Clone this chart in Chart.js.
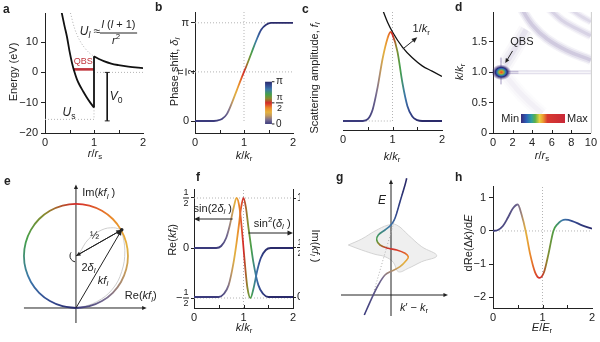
<!DOCTYPE html>
<html>
<head>
<meta charset="utf-8">
<title>Quasi-bound state</title>
<script src="https://cdn.jsdelivr.net/npm/chart.js@4.4.1/dist/chart.umd.min.js"></script>
<style>
  html, body { margin: 0; padding: 0; background: #fff; }
  body { position: relative; width: 600px; height: 342px; overflow: hidden; }
  canvas { position: absolute; }
</style>
</head>
<body>
<script>
// ---- a: potential energy (eV) vs r/r_s ----
const aRin = [0.34, 0.4, 0.45, 0.5, 0.55, 0.6, 0.65, 0.7, 0.78, 0.85, 0.92, 1.0];
const aEin = [19.8, 15.2, 11.6, 7.0, 3.2, 0.2, -2.2, -4.0, -6.3, -8.2, -9.9, -11.6];
const aRout = [1.0, 1.1, 1.2, 1.35, 1.5, 1.7, 2.0];
const aEout = [5.3, 4.4, 3.7, 2.9, 2.4, 1.9, 1.4];
const aRcent = [0.52, 0.6, 0.7, 0.8, 0.9, 1.0];
const aEcent = [19.6, 14.7, 10.8, 8.3, 6.5, 5.3];
const aQbsR = [0.57, 1.0];
const aQbsE = [1.0, 1.0];
const aV0R = [1.27, 1.27];
const aV0E = [0, -16];
const aUs = -15.5;

// ---- b: phase shift (in units of pi) vs k/k_r ----
const kPhase = [0, 0.3, 0.45, 0.55, 0.65, 0.75, 0.85, 0.95, 1.0, 1.05, 1.15, 1.25, 1.35, 1.45, 1.55, 1.7, 2];
const phase = [0, 0, 0.005, 0.02, 0.07, 0.18, 0.31, 0.44, 0.5, 0.56, 0.69, 0.82, 0.93, 0.98, 1.0, 1.0, 1.0];

// ---- c: scattering amplitude and 1/k ----
const kAmp = [0, 0.4, 0.5, 0.6, 0.7, 0.8, 0.9, 0.96, 1.0, 1.1, 1.2, 1.3, 1.4, 1.5, 1.6, 2];
const amp = [0, 0, 0.02, 0.13, 0.38, 0.7, 0.93, 1.0, 0.97, 0.78, 0.43, 0.17, 0.05, 0.01, 0, 0];
const kInv = [0.8, 0.9, 1.0, 1.2, 1.4, 1.6, 1.8, 2.0];
const invK = [1.25, 1.11, 1.0, 0.83, 0.71, 0.62, 0.56, 0.5];

// ---- d: map features (r/r_s, k/k_r) ----
const dSpotR = [0.85], dSpotK = [1.0];
const dBandR = [0.9, 10], dBandK = [1.0, 1.0];
const dTailR = [0.85, 2.6], dTailK = [1.0, 1.0];
const dStreakR = [0.82, 0.82], dStreakK = [0.8, 1.24];
const dFanR = [1.2, 2.2, 3.4], dFanK = [1.12, 1.38, 1.7];
const dWedgeR = [1.4, 3.0, 5.0], dWedgeK = [0.92, 0.62, 0.32];
const dArc1R = [2.9, 4.0, 5.5, 7.5, 10], dArc1K = [2.05, 1.78, 1.55, 1.36, 1.2];
const dArc2R = [5.7, 7.0, 8.5, 10], dArc2K = [2.05, 1.86, 1.72, 1.6];
const dArc3R = [7.8, 9.0, 10], dArc3K = [2.05, 1.92, 1.83];

// ---- e: kf_l on the complex plane ----
const eRe = [0, 0.129, 0.25, 0.354, 0.433, 0.483, 0.5, 0.483, 0.433, 0.354, 0.25, 0.129, 0,
  -0.129, -0.25, -0.354, -0.433, -0.483, -0.5, -0.483, -0.433, -0.354, -0.25, -0.129, 0];
const eIm = [0, 0.017, 0.067, 0.146, 0.25, 0.371, 0.5, 0.629, 0.75, 0.854, 0.933, 0.983, 1,
  0.983, 0.933, 0.854, 0.75, 0.629, 0.5, 0.371, 0.25, 0.146, 0.067, 0.017, 0];
const eCentre = [0, 0.5];
const ePoint = [0.44, 0.75];
const eArc1Re = [0.03, 0.12, 0.25, 0.36, 0.44], eArc1Im = [0.52, 0.66, 0.75, 0.77, 0.75];
const eArc2Re = [0.03, 0.2, 0.35, 0.44, 0.47, 0.44], eArc2Im = [0, 0.06, 0.18, 0.35, 0.55, 0.75];

// ---- f: Re and Im of kf_l ----
const kRe = [0, 0.45, 0.55, 0.65, 0.72, 0.8, 0.86, 0.92, 0.96, 1.0, 1.04, 1.08, 1.14, 1.2, 1.28, 1.35, 1.45, 1.55, 2];
const reKf = [0, 0, 0.02, 0.1, 0.22, 0.4, 0.5, 0.4, 0.22, 0, -0.22, -0.4, -0.5, -0.41, -0.22, -0.1, -0.02, 0, 0];
const kIm = [0, 0.5, 0.6, 0.7, 0.8, 0.86, 0.9, 0.95, 1.0, 1.05, 1.1, 1.15, 1.2, 1.3, 1.4, 1.5, 2];
const imKf = [0, 0, 0.03, 0.12, 0.35, 0.55, 0.7, 0.9, 1.0, 0.9, 0.7, 0.52, 0.35, 0.12, 0.03, 0, 0];

// ---- g: dispersion sketch (k' - k_r, E) ----
const gK = [-2.67, -1.93, -1.27, -0.6, 0.07, 0.9, 1.57, 1.73, 1.4, 0.57, -0.27, -1.1, -1.43, -1.27, -0.6, 0, 0.4, 0.9, 1.4, 1.57];
const gE = [-2.0, -0.33, 1.0, 2.0, 2.4, 2.83, 3.5, 3.83, 4.17, 4.5, 4.67, 5.0, 5.5, 6.0, 6.5, 7.0, 7.67, 9.33, 11, 11.67];
const gLensK = [-4.27, -2.93, -1.6, -0.27, 0.57, 1.73, 3.07, 4.57, 3.07, 1.73, 0.73, 0.23, -0.6, -1.6, -2.93, -4.27];
const gLensE = [5.0, 5.6, 6.4, 7.0, 7.0, 6.0, 4.83, 3.93, 3.33, 2.67, 2.33, 3.27, 3.83, 4.07, 4.5, 5.0];
const gDotK = [-1.67, 1.23], gDotE = [0.5, 10.5];

// ---- h: dRe(dk)/dE vs E/E_r ----
const eH = [0, 0.1, 0.2, 0.3, 0.4, 0.5, 0.58, 0.66, 0.75, 0.85, 0.94, 1.03, 1.12, 1.22, 1.3, 1.46, 1.6, 1.8, 2];
const dReH = [0, 0.03, 0.15, 0.4, 0.68, 0.8, 0.48, 0, -0.7, -1.25, -1.42, -1.25, -0.7, 0, 0.2, 0.34, 0.3, 0.17, 0.07];

// colour scale of the phase (0 .. pi)
const CM_POS = [0, 0.1, 0.2, 0.28, 0.38, 0.5, 0.6, 0.7, 0.82, 0.92, 1];
const CM_COL = ['#3a3a7c', '#7a6e90', '#c49a5c', '#e4b23e', '#ea8a2a', '#d42a2a', '#8a8a2e', '#45a04a', '#3c78aa', '#33488f', '#2a2a6a'];
// colour stops for g (E) and h (E/E_r), as fraction of the phase scale
const gColE = [-2, 1.5, 2.3, 2.9, 3.6, 4.1, 4.6, 5.1, 5.6, 6.6, 8, 11];
const gColF = [0, 0.08, 0.15, 0.25, 0.33, 0.42, 0.5, 0.6, 0.7, 0.8, 0.92, 1];
const hColE = [0, 0.45, 0.58, 0.66, 0.75, 0.9, 1.0, 1.12, 1.25, 1.4, 1.6, 2];
const hColF = [0, 0.06, 0.15, 0.27, 0.38, 0.48, 0.52, 0.62, 0.7, 0.82, 0.92, 1];
// min..max colour bar of d
const MAP_POS = [0, 0.12, 0.24, 0.32, 0.42, 0.5, 0.6, 1];
const MAP_COL = ['#3a2a78', '#2c5fb8', '#2fa0a0', '#5ab04a', '#e8d040', '#ec9a30', '#d83a30', '#c82838'];

const FONT = '"Liberation Sans", Arial, Helvetica, sans-serif';
const INK = '#222';
const DOT = { color: '#b4b4b4', dash: [1, 2], w: 1 };
Chart.defaults.font.family = FONT;
Chart.defaults.font.size = 11;
Chart.defaults.color = INK;
Chart.defaults.plugins.legend.display = false;
Chart.defaults.plugins.tooltip.enabled = false;
Chart.defaults.elements.point.radius = 0;

const pts = (xs, ys) => xs.map((x, i) => ({ x, y: ys[i] }));

function lerp(xs, ys, v) {
  if (v <= xs[0]) return ys[0];
  for (let i = 1; i < xs.length; i++) {
    if (v <= xs[i]) return ys[i - 1] + (ys[i] - ys[i - 1]) * (v - xs[i - 1]) / (xs[i] - xs[i - 1]);
  }
  return ys[ys.length - 1];
}
const rgb = h => [1, 3, 5].map(i => parseInt(h.slice(i, i + 2), 16));
function mix(pos, cols, f) {
  const c = cols.map(rgb);
  const ch = [0, 1, 2].map(j => Math.round(lerp(pos, c.map(v => v[j]), f)));
  return `rgb(${ch.join(',')})`;
}
const cmap = f => mix(CM_POS, CM_COL, f);

function stopGradient(ch, xs, fs, vertical) {
  const { ctx, chartArea, scales } = ch;
  if (!chartArea) return '#446';
  const s = vertical ? scales.y : scales.x;
  const p0 = s.getPixelForValue(s.min), p1 = s.getPixelForValue(s.max);
  const g = vertical ? ctx.createLinearGradient(0, p0, 0, p1) : ctx.createLinearGradient(p0, 0, p1, 0);
  for (let i = 0; i <= 100; i++) {
    const v = s.min + (s.max - s.min) * i / 100;
    g.addColorStop(i / 100, cmap(lerp(xs, fs, v)));
  }
  return g;
}
const phaseColour = c => stopGradient(c.chart, kPhase, phase);

function circleGradient(ch) {
  const { ctx, chartArea, scales } = ch;
  if (!chartArea) return '#446';
  const g = ctx.createConicGradient(Math.PI / 2, scales.x.getPixelForValue(eCentre[0]), scales.y.getPixelForValue(eCentre[1]));
  for (let i = 0; i <= 100; i++) g.addColorStop(i / 100, cmap(1 - i / 100));
  return g;
}

// ---- drawing helpers ----
function xy(ch, x, y, yid = 'y') {
  return [ch.scales.x.getPixelForValue(x), ch.scales[yid].getPixelForValue(y)];
}
function loc(ch, x, y) { return [x - ch.canvas.offsetLeft, y - ch.canvas.offsetTop]; }
function line(c, p, o = {}) {
  c.save();
  c.beginPath();
  p.forEach((q, i) => i ? c.lineTo(q[0], q[1]) : c.moveTo(q[0], q[1]));
  c.strokeStyle = o.color || INK;
  c.lineWidth = o.w || 1;
  c.setLineDash(o.dash || []);
  c.stroke();
  c.restore();
}
function arrow(c, p1, p2, o = {}) {
  const s = o.size || 5, a = Math.atan2(p2[1] - p1[1], p2[0] - p1[0]);
  line(c, [p1, [p2[0] - s * 0.7 * Math.cos(a), p2[1] - s * 0.7 * Math.sin(a)]], o);
  c.save();
  c.fillStyle = o.color || INK;
  c.beginPath();
  c.moveTo(p2[0], p2[1]);
  c.lineTo(p2[0] - s * Math.cos(a - 0.42), p2[1] - s * Math.sin(a - 0.42));
  c.lineTo(p2[0] - s * Math.cos(a + 0.42), p2[1] - s * Math.sin(a + 0.42));
  c.closePath();
  c.fill();
  c.restore();
}
function rich(c, x, y, parts, o = {}) {
  const size = o.size || 11;
  c.save();
  c.translate(x, y);
  if (o.rot) c.rotate(o.rot);
  c.fillStyle = o.color || INK;
  c.textBaseline = 'middle';
  c.textAlign = 'left';
  const items = parts.map(p => {
    const [t, s] = typeof p === 'string' ? [p, ''] : [p[0], p[1] || ''];
    const small = s.includes('s') || s.includes('p');
    const fs = small ? size * 0.72 : size;
    const font = (s.includes('i') ? 'italic ' : '') + (s.includes('b') ? 'bold ' : '') + fs.toFixed(1) + 'px ' + FONT;
    c.font = font;
    return { t, font, w: c.measureText(t).width, dy: s.includes('s') ? size * 0.3 : s.includes('p') ? -size * 0.36 : 0 };
  });
  const total = items.reduce((a, it) => a + it.w, 0);
  let cx = o.align === 'left' ? 0 : o.align === 'right' ? -total : -total / 2;
  items.forEach(it => { c.font = it.font; c.fillText(it.t, cx, it.dy); cx += it.w; });
  c.restore();
}
function frac(c, x, y, num, den, o = {}) {
  const size = o.size || 9;
  c.save();
  c.translate(x, y);
  if (o.rot) c.rotate(o.rot);
  c.font = size + 'px ' + FONT;
  c.fillStyle = INK;
  c.textAlign = 'center';
  c.textBaseline = 'middle';
  const w = Math.max(c.measureText(num).width, c.measureText(den).width) + 1;
  const cx = o.align === 'right' ? -w / 2 : o.align === 'left' ? w / 2 : 0;
  c.fillText(num, cx, -size * 0.58);
  c.fillText(den, cx, size * 0.62);
  c.fillRect(cx - w / 2, -0.5, w, 1);
  if (o.neg) { c.textAlign = 'right'; c.font = (size + 2) + 'px ' + FONT; c.fillText('−', cx - w / 2 - 0.5, 0); }
  c.restore();
}
function inTicks(ch, vals, len = 3) {
  const sx = ch.scales.x, b = ch.chartArea.bottom;
  vals.forEach(v => {
    const x = Math.round(sx.getPixelForValue(v)) + 0.5;
    line(ch.ctx, [[x, b], [x, b - len]]);
  });
}
function letter(ch, t, x, y) { rich(ch.ctx, ...loc(ch, x, y), [[t, 'b']], { size: 12, align: 'left' }); }
function title(ch, x, y, parts, rot) { rich(ch.ctx, ...loc(ch, x, y), parts, { size: 11, rot }); }
const kOverKr = [['k', 'i'], '/', ['k', 'i'], ['r', 's']];
const rOverRs = [['r', 'i'], '/', ['r', 'i'], ['s', 's']];
const UP = -Math.PI / 2;

function xScale(min, max, step, h) {
  return {
    type: 'linear', min, max, afterFit: s => { s.height = h; },
    ticks: { stepSize: step, padding: 3, maxRotation: 0, autoSkip: false },
    grid: { display: false, drawTicks: false },
    border: { color: INK, width: 1 }
  };
}
function yScale(min, max, ticks, w, fmt, tl = 4, pad = 2, position = 'left') {
  return {
    type: 'linear', position, min, max, afterFit: s => { s.width = w; },
    afterBuildTicks: s => { s.ticks = ticks.map(v => ({ value: v })); },
    ticks: { padding: pad, callback: fmt },
    grid: { drawOnChartArea: false, drawTicks: true, tickLength: tl, color: INK },
    border: { color: INK, width: 1 }
  };
}
const num = v => v < 0 ? '−' + Math.abs(v) : String(v);

function make(box, padding, datasets, scales, deco) {
  const c = document.createElement('canvas');
  c.width = box[2];
  c.height = box[3];
  c.style.cssText = `left:${box[0]}px;top:${box[1]}px;width:${box[2]}px;height:${box[3]}px`;
  document.body.appendChild(c);
  return new Chart(c, {
    type: 'line',
    data: { datasets },
    options: {
      responsive: false, devicePixelRatio: 1, animation: false, events: [],
      layout: { autoPadding: false, padding },
      scales
    },
    plugins: [deco]
  });
}

// ---------------- a ----------------
make([0, 0, 150, 171], { left: 0, top: 13, right: 7, bottom: 0 }, [
  { data: pts(aRin, aEin), borderColor: '#111', borderWidth: 1.8, cubicInterpolationMode: 'monotone' },
  { data: pts([1, 1], [aEin[aEin.length - 1], aEout[0]]), borderColor: '#111', borderWidth: 1.8 },
  { data: pts(aRout, aEout), borderColor: '#111', borderWidth: 1.8, cubicInterpolationMode: 'monotone' },
  { data: pts(aQbsR, aQbsE), borderColor: '#c0353c', borderWidth: 2.6 },
  { data: pts(aV0R, aV0E), borderColor: '#111', borderWidth: 1 },
  { data: pts(aRcent, aEcent), borderColor: '#b0b0b0', borderWidth: 1, borderDash: [1, 2], cubicInterpolationMode: 'monotone' }
], {
  x: xScale(0, 2, 1, 38),
  y: yScale(-20, 19.6, [-20, -10, 0, 10], 45, num, 4, 3)
}, {
  id: 'decoA',
  beforeDatasetsDraw(ch) {
    const c = ch.ctx;
    line(c, [xy(ch, 0, aUs), xy(ch, 1, aUs), xy(ch, 1, aEin[aEin.length - 1])], DOT);
    line(c, [xy(ch, 1, 0), xy(ch, 2, 0)], DOT);
  },
  afterDraw(ch) {
    const c = ch.ctx;
    inTicks(ch, [0.5, 1, 1.5]);
    line(c, [xy(ch, 1.22, 0), xy(ch, 1.32, 0)]);
    line(c, [xy(ch, 1.22, -16), xy(ch, 1.32, -16)]);
    rich(c, ...xy(ch, 0.78, 3.6), ['QBS'], { size: 9, color: '#c0353c' });
    rich(c, ...xy(ch, 1.45, -8.1), [['V', 'i'], ['0', 's']], { size: 12 });
    rich(c, ...xy(ch, 0.49, -13.4), [['U', 'i'], ['s', 's']], { size: 12 });
    rich(c, ...xy(ch, 0.92, 13.3), [['U', 'i'], ['l', 'is'], ' ≈'], { size: 12 });
    rich(c, ...xy(ch, 1.5, 15.7), [['l', 'i'], ' (', ['l', 'i'], ' + 1)'], { size: 11 });
    line(c, [xy(ch, 1.12, 13.0), xy(ch, 1.88, 13.0)]);
    rich(c, ...xy(ch, 1.45, 10.3), [['r', 'i'], ['2', 'p']], { size: 11 });
    title(ch, 14, 72, ['Energy (eV)'], UP);
    title(ch, 95, 154, rOverRs);
    letter(ch, 'a', 3, 10);
  }
});

// ---------------- b ----------------
make([150, 0, 150, 171], { left: 0, top: 12, right: 7, bottom: 0 }, [
  { data: pts(kPhase, phase), borderColor: phaseColour, borderWidth: 1.8, cubicInterpolationMode: 'monotone' }
], {
  x: xScale(0, 2, 1, 38),
  y: yScale(-0.122, 1.11, [0, 0.5, 1], 45, v => v === 0 ? '0' : v === 1 ? 'π' : '', 4, 2)
}, {
  id: 'decoB',
  beforeDatasetsDraw(ch) {
    const c = ch.ctx;
    line(c, [xy(ch, 0, 1), xy(ch, 2, 1)], DOT);
    line(c, [xy(ch, 0, 0.5), xy(ch, 2, 0.5)], DOT);
    line(c, [xy(ch, 1, 0), xy(ch, 1, 1.11)], DOT);
  },
  afterDraw(ch) {
    const c = ch.ctx;
    inTicks(ch, [0.5, 1, 1.5]);
    frac(c, ch.chartArea.left - 9, ch.scales.y.getPixelForValue(0.5), 'π', '2', { rot: UP });
    // colour bar
    const [x0, yTop] = xy(ch, 1.43, 0.4), [x1, yBot] = xy(ch, 1.57, -0.03);
    const g = c.createLinearGradient(0, yBot, 0, yTop);
    for (let i = 0; i <= 50; i++) g.addColorStop(i / 50, cmap(i / 50));
    c.fillStyle = g;
    c.fillRect(x0, yTop, x1 - x0, yBot - yTop);
    [[yTop, 'π'], [(yTop + yBot) / 2, ''], [yBot, '0']].forEach(([y, t]) => {
      line(c, [[x1, y], [x1 + 2.5, y]]);
      if (t) rich(c, x1 + 4, y, [t], { size: 10, align: 'left' });
    });
    frac(c, x1 + 4, (yTop + yBot) / 2, 'π', '2', { size: 9, align: 'left' });
    title(ch, 175, 72, ['Phase shift, ', ['δ', 'i'], ['l', 'is']], UP);
    title(ch, 244, 156, kOverKr);
    letter(ch, 'b', 155, 8);
  }
});

// ---------------- c ----------------
make([300, 0, 150, 171], { left: 0, top: 12, right: 8, bottom: 0 }, [
  { data: pts(kAmp, amp), borderColor: phaseColour, borderWidth: 1.8, cubicInterpolationMode: 'monotone' },
  { data: pts(kInv, invK), borderColor: '#111', borderWidth: 1.3, cubicInterpolationMode: 'monotone' }
], {
  x: xScale(0, 2, 1, 41),
  y: {
    type: 'linear', min: -0.101, max: 1.225, afterFit: s => { s.width = 43; },
    ticks: { display: false }, grid: { display: false, drawTicks: false }, border: { display: false }
  }
}, {
  id: 'decoC',
  beforeDatasetsDraw(ch) {
    const c = ch.ctx;
    line(c, [xy(ch, 1, 0), xy(ch, 1, 1.225)], DOT);
    line(c, [xy(ch, 0.4, 0), xy(ch, 1, 0)], DOT);
  },
  afterDraw(ch) {
    const c = ch.ctx;
    inTicks(ch, [0.5, 1, 1.5]);
    arrow(c, xy(ch, 1.21, 0.81), xy(ch, 1.5, 0.94), { size: 6 });
    rich(c, ...xy(ch, 1.58, 1.03), ['1/', ['k', 'i'], ['r', 's']], { size: 11 });
    title(ch, 315, 78, ['Scattering amplitude, ', ['f', 'i'], ['l', 'is']], UP);
    title(ch, 392, 157, kOverKr);
    letter(ch, 'c', 302, 10);
  }
});

// ---------------- d ----------------
const purple = a => `rgba(100,82,150,${a})`;
const soft = (xs, ys, a, w) => [
  { data: pts(xs, ys), borderColor: purple(a), borderWidth: w * 0.35, tension: 0.4 },
  { data: pts(xs, ys), borderColor: purple(a * 0.7), borderWidth: w * 0.7, tension: 0.4 },
  { data: pts(xs, ys), borderColor: purple(a * 0.45), borderWidth: w, tension: 0.4 }
];
make([450, 0, 150, 171], { left: 0, top: 12, right: 8, bottom: 0 }, [
  { data: pts(dBandR, dBandK), borderColor: 'rgba(255,255,255,0.95)', borderWidth: 1 },
  { data: pts(dTailR, dTailK), borderColor: purple(0.45), borderWidth: 2.5 },
  { data: pts(dBandR, dBandK), borderColor: purple(0.18), borderWidth: 4 },
  { data: pts(dStreakR, dStreakK), borderColor: purple(0.3), borderWidth: 2 },
  ...soft(dArc1R, dArc1K, 0.16, 10),
  ...soft(dArc2R, dArc2K, 0.13, 9),
  ...soft(dArc3R, dArc3K, 0.11, 8),
  ...soft(dFanR, dFanK, 0.08, 16),
  ...soft(dWedgeR, dWedgeK, 0.04, 14)
], {
  x: xScale(0, 10, 2, 38),
  y: yScale(0, 1.99, [0, 0.5, 1, 1.5], 43, v => v === 0 ? '0' : v.toFixed(1), 4, 2)
}, {
  id: 'decoD',
  afterDatasetsDraw(ch) {
    const c = ch.ctx;
    const [hx, hy] = xy(ch, dSpotR[0], dSpotK[0]);
    c.save();
    c.translate(hx, hy);
    c.scale(1.25, 1);
    const g = c.createRadialGradient(0, 0, 0, 0, 0, 8);
    g.addColorStop(0, '#e04a20');
    g.addColorStop(0.18, '#e88a2a');
    g.addColorStop(0.3, '#70b050');
    g.addColorStop(0.45, '#2f70b8');
    g.addColorStop(0.6, '#2a2a78');
    g.addColorStop(0.8, 'rgba(60,45,120,0.45)');
    g.addColorStop(1, 'rgba(90,70,140,0)');
    c.fillStyle = g;
    c.beginPath();
    c.arc(0, 0, 8, 0, Math.PI * 2);
    c.fill();
    c.restore();
  },
  afterDraw(ch) {
    const c = ch.ctx, a = ch.chartArea;
    line(c, [[a.right + 0.5, a.top], [a.right + 0.5, a.bottom]], { color: '#ccc' });
    inTicks(ch, [2, 4, 6, 8]);
    const [x0, y0] = loc(ch, 521, 114), [x1, y1] = loc(ch, 565, 123);
    const g = c.createLinearGradient(x0, 0, x1, 0);
    for (let i = 0; i <= 50; i++) g.addColorStop(i / 50, mix(MAP_POS, MAP_COL, i / 50));
    c.fillStyle = g;
    c.fillRect(x0, y0, x1 - x0, y1 - y0);
    rich(c, x0 - 2, (y0 + y1) / 2, ['Min'], { size: 11, align: 'right' });
    rich(c, x1 + 2, (y0 + y1) / 2, ['Max'], { size: 11, align: 'left' });
    rich(c, ...xy(ch, 2.95, 1.5), ['QBS'], { size: 11 });
    arrow(c, xy(ch, 2.0, 1.35), xy(ch, 1.25, 1.15), { size: 5 });
    title(ch, 460, 72, kOverKr, UP);
    title(ch, 542, 156, rOverRs);
    letter(ch, 'd', 455, 8);
  }
});

// ---------------- e ----------------
make([0, 171, 170, 171], { left: 20, top: 13, right: 23, bottom: 19 }, [
  { data: pts(eRe, eIm), borderColor: c => circleGradient(c.chart), borderWidth: 1.8, tension: 0.4 },
  { data: pts(eArc1Re, eArc1Im), borderColor: '#c8c8c8', borderWidth: 0.9, tension: 0.4 },
  { data: pts(eArc2Re, eArc2Im), borderColor: '#c8c8c8', borderWidth: 0.9, tension: 0.4 }
], {
  x: { type: 'linear', min: -0.538, max: 0.683, display: false },
  y: { type: 'linear', min: -0.144, max: 1.19, display: false }
}, {
  id: 'decoE',
  beforeDatasetsDraw(ch) {
    const c = ch.ctx;
    arrow(c, xy(ch, 0, -0.144), xy(ch, 0, 1.185), { size: 5 });
    arrow(c, xy(ch, -0.5, 0), xy(ch, 0.68, 0), { size: 5 });
  },
  afterDatasetsDraw(ch) {
    const c = ch.ctx;
    const o = xy(ch, 0, 0), m = xy(ch, ...eCentre), p = xy(ch, ...ePoint);
    arrow(c, o, p, { size: 6 });
    arrow(c, m, p, { size: 6 });
    arrow(c, p, m, { size: 5 });
    c.save();
    c.fillStyle = INK;
    c.beginPath();
    c.arc(p[0], p[1], 1.8, 0, Math.PI * 2);
    c.fill();
    c.strokeStyle = INK;
    c.lineWidth = 1;
    c.beginPath();
    c.arc(m[0], m[1], 6, 0.55 * Math.PI, 1.2 * Math.PI);
    c.stroke();
    c.restore();
    rich(c, ...xy(ch, 0.18, 0.69), ['½'], { size: 11 });
    rich(c, ...xy(ch, 0.12, 0.385), ['2', ['δ', 'i'], ['l', 'is']], { size: 11 });
    rich(c, ...xy(ch, 0.26, 0.26), [['kf', 'i'], ['l', 'is']], { size: 11 });
    rich(c, ...xy(ch, 0.06, 1.1), ['Im(', ['kf', 'i'], ['l', 'is'], ' )'], { size: 11, align: 'left' });
    rich(c, ...xy(ch, 0.47, 0.115), ['Re(', ['kf', 'i'], ['l', 'is'], ')'], { size: 11, align: 'left' });
  },
  afterDraw(ch) { letter(ch, 'e', 4, 182); }
});

// ---------------- f ----------------
make([150, 171, 150, 171], { left: 0, top: 18, right: 0, bottom: 0 }, [
  { data: pts(kRe, reKf), borderColor: phaseColour, borderWidth: 1.8, cubicInterpolationMode: 'monotone' },
  { data: pts(kIm, imKf), yAxisID: 'y2', borderColor: phaseColour, borderWidth: 1.8, cubicInterpolationMode: 'monotone' }
], {
  x: xScale(0, 2, 1, 34),
  y: yScale(-0.6, 0.59, [-0.5, 0, 0.5], 44, v => v === 0 ? '0' : '', 3, 2),
  y2: yScale(-0.111, 1.091, [0, 0.5, 1], 7, v => v === 0.5 ? '' : String(v), 3, 1, 'right')
}, {
  id: 'decoF',
  beforeDatasetsDraw(ch) {
    const c = ch.ctx;
    line(c, [xy(ch, 0, 0.5), xy(ch, 2, 0.5)], DOT);
    line(c, [xy(ch, 0, -0.5), xy(ch, 2, -0.5)], DOT);
    line(c, [xy(ch, 1, -0.6), xy(ch, 1, 0.59)], DOT);
  },
  afterDraw(ch) {
    const c = ch.ctx, a = ch.chartArea, y = ch.scales.y;
    inTicks(ch, [0.5, 1, 1.5]);
    frac(c, a.left - 5, y.getPixelForValue(0.5), '1', '2', { align: 'right', size: 9 });
    frac(c, a.left - 5, y.getPixelForValue(-0.5), '1', '2', { align: 'right', size: 9, neg: true });
    frac(c, a.right + 4, ch.scales.y2.getPixelForValue(0.5), '1', '2', { align: 'left', size: 9 });
    arrow(c, xy(ch, 0.78, 0.29), xy(ch, 0.0, 0.29), { size: 6 });
    rich(c, ...xy(ch, 0.38, 0.39), ['sin(2', ['δ', 'i'], ['l', 'is'], ' )'], { size: 11 });
    arrow(c, xy(ch, 1.1, 0.15), xy(ch, 2.0, 0.15), { size: 6 });
    rich(c, ...xy(ch, 1.58, 0.24), ['sin', ['2', 'p'], '(', ['δ', 'i'], ['l', 'is'], ' )'], { size: 11 });
    title(ch, 173, 240, ['Re(', ['kf', 'i'], ['l', 'is'], ')'], UP);
    title(ch, 244, 328, kOverKr);
    letter(ch, 'f', 196, 178);
  }
});

// ---------------- g ----------------
make([300, 171, 150, 171], { left: 30, top: 7, right: 0, bottom: 20 }, [
  { data: pts(gK, gE), borderColor: c => stopGradient(c.chart, gColE, gColF, true), borderWidth: 1.6, tension: 0.35 },
  { data: pts(gDotK, gDotE), borderColor: '#b0b0b0', borderWidth: 1, borderDash: [1, 2] },
  { data: pts(gLensK, gLensE), borderColor: '#cfcfcf', borderWidth: 0.9, backgroundColor: 'rgba(228,228,228,0.6)', fill: 'shape', tension: 0.4 }
], {
  x: { type: 'linear', min: -6.1, max: 5.9, display: false },
  y: { type: 'linear', min: -2.7, max: 11.7, display: false }
}, {
  id: 'decoG',
  afterDatasetDraw(ch, args) {
    if (args.index !== 2) return;
    const c = ch.ctx;
    arrow(c, xy(ch, 0, -2.1), xy(ch, 0, 11.55), { size: 5 });
    arrow(c, xy(ch, -5.0, 0), xy(ch, 5.7, 0), { size: 5 });
  },
  afterDraw(ch) {
    const c = ch.ctx;
    rich(c, ...xy(ch, -0.9, 9.4), [['E', 'i']], { size: 12 });
    rich(c, ...xy(ch, 2.3, -1.3), [['k', 'i'], '′ − ', ['k', 'i'], ['r', 's']], { size: 11 });
    title(ch, 315, 246, ['Im(', ['kf', 'i'], ['l', 'is'], ' )'], Math.PI / 2);
    letter(ch, 'g', 336, 178);
  }
});

// ---------------- h ----------------
make([450, 171, 150, 171], { left: 0, top: 15, right: 8, bottom: 0 }, [
  { data: pts(eH, dReH), borderColor: c => stopGradient(c.chart, hColE, hColF), borderWidth: 1.8, cubicInterpolationMode: 'monotone' }
], {
  x: xScale(0, 2, 1, 34),
  y: yScale(-2.33, 1.36, [-2, -1, 0, 1], 43, num, 4, 3)
}, {
  id: 'decoH',
  beforeDatasetsDraw(ch) {
    const c = ch.ctx;
    line(c, [xy(ch, 0, 0), xy(ch, 2, 0)], DOT);
    line(c, [xy(ch, 1, -2.33), xy(ch, 1, 1.36)], DOT);
  },
  afterDraw(ch) {
    inTicks(ch, [0.5, 1, 1.5]);
    title(ch, 469, 243, ['dRe(Δ', ['k', 'i'], ')/d', ['E', 'i']], UP);
    title(ch, 542, 328, [['E', 'i'], '/', ['E', 'i'], ['r', 's']]);
    letter(ch, 'h', 455, 178);
  }
});
</script>
</body>
</html>
